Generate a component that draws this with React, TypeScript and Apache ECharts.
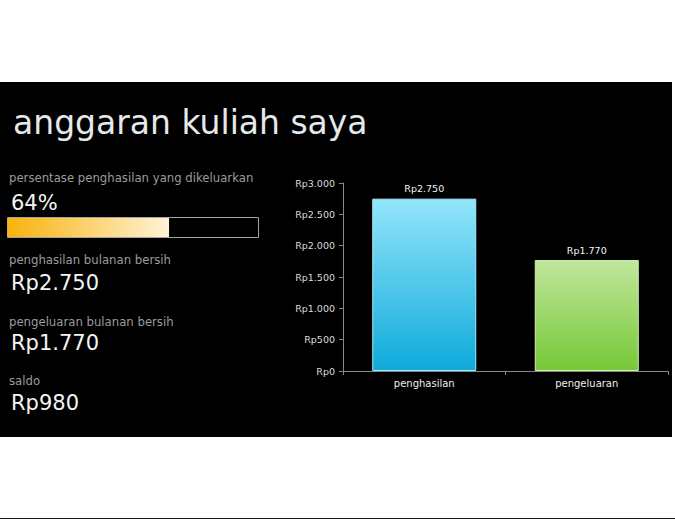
import React, { useEffect, useRef } from 'react';
import * as echarts from 'echarts';

// bar chart data
const categories = ['penghasilan', 'pengeluaran'];
const amounts = [2750, 1770];
const axisMin = 0;
const axisMax = 3000;
const axisStep = 500;

// left-side summary captions
const captions = [
  'persentase penghasilan yang dikeluarkan',
  'penghasilan bulanan bersih',
  'pengeluaran bulanan bersih',
  'saldo',
];

const rupiah = (n: number) =>
  'Rp' + String(Math.round(n)).replace(/\B(?=(\d{3})+(?!\d))/g, '.');

const FONT = '"DejaVu Sans", sans-serif';

const App = () => {
  const chartRef = useRef<HTMLDivElement>(null);

  useEffect(() => {
    if (!chartRef.current) return;
    const chart = echarts.init(chartRef.current, null, { renderer: 'svg' });

    const income = amounts[0];
    const spent = amounts[1];
    const ratio = (spent / income) * 100;
    const values = [Math.round(ratio) + '%', rupiah(income), rupiah(spent), rupiah(income - spent)];

    const captionY = [178, 260, 321.5, 380.5];
    const valueY = [203, 283, 343, 403];

    const leftTexts: any[] = [];
    captions.forEach((c, i) => {
      leftTexts.push({
        type: 'text',
        x: 9,
        y: captionY[i],
        style: { text: c, fill: '#9c9c9c', fontSize: 11.7, fontFamily: FONT, verticalAlign: 'middle' },
      });
      leftTexts.push({
        type: 'text',
        x: 11,
        y: valueY[i],
        style: { text: values[i], fill: '#f4f4f4', fontSize: 21, fontFamily: FONT, verticalAlign: 'middle' },
      });
    });

    const barColors = [
      ['#93e6fb', '#0ea9da', '#a6ecfc'],
      ['#c0e79c', '#76c937', '#d2f0b4'],
    ];

    chart.setOption({
      animation: false,
      backgroundColor: '#ffffff',
      graphic: [
        { type: 'rect', z: -100, silent: true, shape: { x: 0, y: 82, width: 672, height: 355 }, style: { fill: '#000000' } },
        { type: 'line', silent: true, shape: { x1: 0, y1: 518.5, x2: 675, y2: 518.5 }, style: { stroke: '#1a1a1a', lineWidth: 1 } },
        {
          type: 'text',
          x: 13,
          y: 122,
          style: { text: 'anggaran kuliah saya', fill: '#e6e8ea', fontSize: 33, fontFamily: FONT, verticalAlign: 'middle' },
        },
        ...leftTexts,
      ],
      grid: [
        { left: 343, top: 183, width: 325, height: 188, containLabel: false },
        {
          left: 7.5,
          top: 217.5,
          width: 251,
          height: 20,
          show: true,
          backgroundColor: 'transparent',
          borderColor: '#a3a3a3',
          borderWidth: 1,
        },
      ],
      xAxis: [
        {
          type: 'category',
          gridIndex: 0,
          data: categories,
          axisLine: { lineStyle: { color: '#878787' } },
          axisTick: { show: true, length: 4, lineStyle: { color: '#878787' } },
          axisLabel: { color: '#f0f0f0', fontSize: 10, fontFamily: FONT, margin: 7 },
        },
        { type: 'value', gridIndex: 1, min: 0, max: 100, show: false },
      ],
      yAxis: [
        {
          type: 'value',
          gridIndex: 0,
          min: axisMin,
          max: axisMax,
          interval: axisStep,
          splitLine: { show: false },
          axisLine: { show: true, lineStyle: { color: '#878787' } },
          axisTick: { show: true, length: 4, lineStyle: { color: '#878787' } },
          axisLabel: {
            color: '#dcdcdc',
            fontSize: 9.5,
            fontFamily: FONT,
            margin: 8,
            formatter: (v: number) => rupiah(v),
          },
        },
        { type: 'category', gridIndex: 1, data: ['rasio'], show: false },
      ],
      series: [
        {
          type: 'bar',
          xAxisIndex: 0,
          yAxisIndex: 0,
          barWidth: '64%',
          data: amounts.map((v, i) => ({
            value: v,
            itemStyle: {
              color: new echarts.graphic.LinearGradient(0, 0, 0, 1, [
                { offset: 0, color: barColors[i][0] },
                { offset: 1, color: barColors[i][1] },
              ]),
              borderColor: barColors[i][2],
              borderWidth: 1,
            },
          })),
          label: {
            show: true,
            position: 'top',
            distance: 5,
            color: '#f4f4f4',
            fontSize: 9.5,
            fontFamily: FONT,
            formatter: (p: any) => rupiah(p.value),
          },
        },
        {
          type: 'bar',
          xAxisIndex: 1,
          yAxisIndex: 1,
          silent: true,
          barWidth: 19,
          data: [ratio],
          itemStyle: {
            color: new echarts.graphic.LinearGradient(0, 0, 1, 0, [
              { offset: 0, color: '#f8b30c' },
              { offset: 1, color: '#fff2d6' },
            ]),
          },
        },
      ],
    });

    return () => {
      chart.dispose();
    };
  }, []);

  return (
    <div
      ref={chartRef}
      style={{ position: 'fixed', left: 0, top: 0, width: '675px', height: '520px' }}
    />
  );
};

export default App;
